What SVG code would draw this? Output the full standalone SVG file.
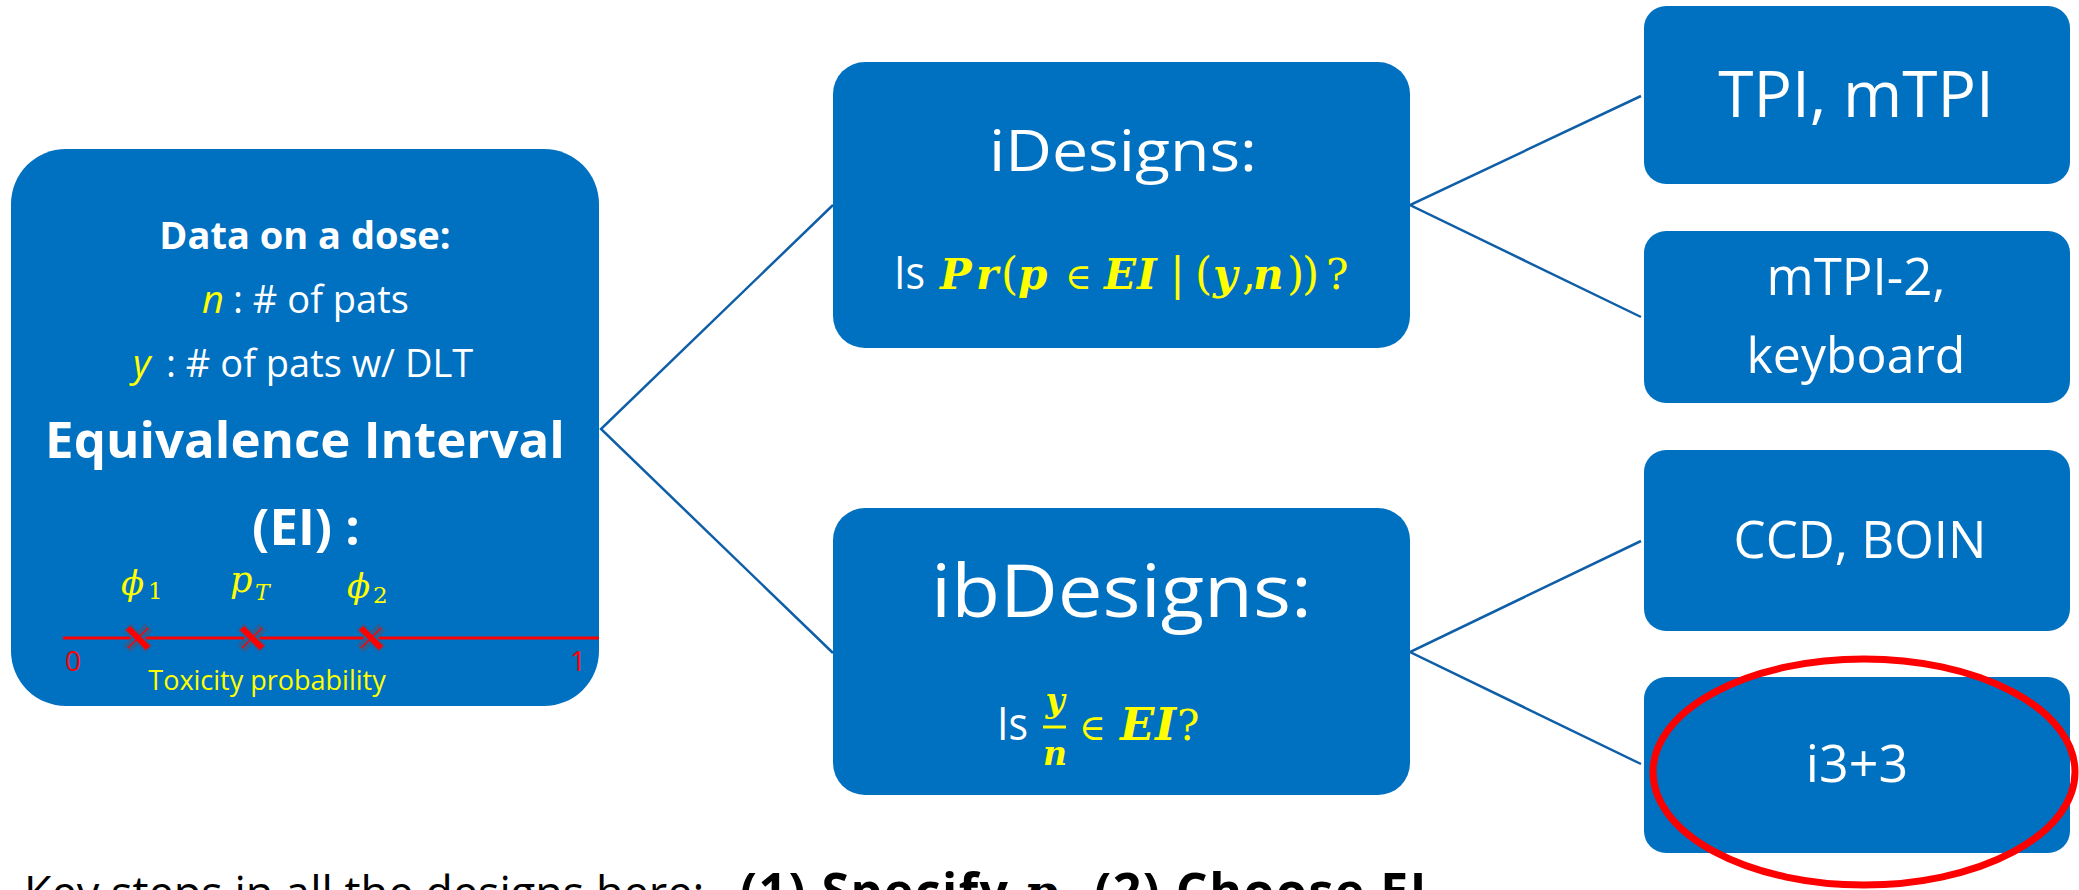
<svg xmlns="http://www.w3.org/2000/svg" width="2079" height="890" viewBox="0 0 2079 890">
  <style>
    .box { fill: #0070C0; }
    .sans { font-family: "Open Sans", "Noto Sans", "DejaVu Sans", sans-serif; }
    .w { fill: #FFFFFF; }
    .yl { fill: #FFFF00; }
    .b { font-weight: bold; }
    .it { font-style: italic; }
    .math { font-family: "DejaVu Serif", "Liberation Serif", serif; fill: #FFFF00; }
    .mbi { font-family: "DejaVu Serif", "Liberation Serif", serif; font-weight: bold; font-style: italic; fill: #FFFF00; }
    .conn { fill: none; stroke: #0F5FA8; stroke-width: 2.5; }
    .mid { text-anchor: middle; }
  </style>
  <defs>
    <!-- marker drawn on the probability axis -->
    <g id="xmark">
      <path d="M-11,-11 L11,11 M11,-11 L-11,11" stroke="#2F5E93" stroke-width="10"/>
      <path d="M-10,-10 L10,10" stroke="#FF0000" stroke-width="6"/>
      <path d="M10,-10 L-10,10" stroke="#FF0000" stroke-width="1.2"/>
    </g>
  </defs>

  <rect width="2079" height="890" fill="#FFFFFF"/>

  <!-- connectors -->
  <g id="connectors">
    <polyline class="conn" points="833,205 601,429 833,653"/>
    <polyline class="conn" points="1641,96 1410,205 1641,317"/>
    <polyline class="conn" points="1641,541 1410,652 1641,764"/>
  </g>

  <!-- root: equivalence interval -->
  <g id="node-ei">
    <rect class="box" x="11" y="149" width="588" height="557" rx="55"/>
    <text class="sans w b mid" x="305" y="249" font-size="38">Data on a dose:</text>
    <text class="sans yl it" x="202" y="313" font-size="38">n</text>
    <text class="sans w" x="233" y="313" font-size="38">: # of pats</text>
    <text class="sans yl it" x="133" y="377" font-size="38">y</text>
    <text class="sans w" x="166" y="377" font-size="38">: # of pats w/ DLT</text>
    <text class="sans w b mid" x="305" y="458" font-size="51">Equivalence Interval</text>
    <text class="sans w b mid" x="306" y="545" font-size="51">(EI) :</text>
    <!-- axis labels -->
    <text class="math it" x="121" y="595" font-size="34">ϕ</text>
    <text class="math" x="148" y="599" font-size="23">1</text>
    <text class="math it" x="230" y="592" font-size="35">p</text>
    <text class="math it" x="255" y="600" font-size="22">T</text>
    <text class="math it" x="347" y="598" font-size="34">ϕ</text>
    <text class="math" x="373" y="603" font-size="23">2</text>
    <!-- axis -->
    <line x1="63" y1="638" x2="599" y2="638" stroke="#FF0000" stroke-width="3"/>
    <use href="#xmark" x="138" y="638"/>
    <use href="#xmark" x="252" y="638"/>
    <use href="#xmark" x="371" y="638"/>
    <text class="sans" x="65" y="671" font-size="28" fill="#FF0000">0</text>
    <text class="sans" x="570" y="671" font-size="28" fill="#FF0000">1</text>
    <text class="sans yl mid" x="267" y="690" font-size="27">Toxicity probability</text>
  </g>

  <!-- iDesigns -->
  <g id="node-idesigns">
    <rect class="box" x="833" y="62" width="577" height="286" rx="32"/>
    <text class="sans w" x="989" y="171" font-size="57" textLength="268" lengthAdjust="spacingAndGlyphs">iDesigns:</text>
    <text class="sans w" x="894" y="289" font-size="46" textLength="31" lengthAdjust="spacingAndGlyphs">Is</text>
    <text class="mbi" x="940" y="289" font-size="42">P</text>
    <text class="mbi" x="976" y="289" font-size="42">r</text>
    <text class="math" x="1001" y="289" font-size="44">(</text>
    <text class="mbi" x="1018" y="289" font-size="42">p</text>
    <text class="math" x="1065" y="289" font-size="36">∈</text>
    <text class="mbi" x="1104" y="289" font-size="42">E</text>
    <text class="mbi" x="1137" y="289" font-size="42">I</text>
    <text class="math" x="1170" y="289" font-size="44">|</text>
    <text class="math" x="1195" y="289" font-size="44">(</text>
    <text class="mbi" x="1213" y="289" font-size="42">y</text>
    <text class="math" x="1242" y="289" font-size="44">,</text>
    <text class="mbi" x="1253" y="289" font-size="42">n</text>
    <text class="math" x="1287" y="289" font-size="44">)</text>
    <text class="math" x="1302" y="289" font-size="44">)</text>
    <text class="math" x="1326" y="289" font-size="42">?</text>
  </g>

  <!-- ibDesigns -->
  <g id="node-ibdesigns">
    <rect class="box" x="833" y="508" width="577" height="287" rx="32"/>
    <text class="sans w" x="931" y="617" font-size="74" textLength="381" lengthAdjust="spacingAndGlyphs">ibDesigns:</text>
    <text class="sans w" x="997" y="740" font-size="46" textLength="31" lengthAdjust="spacingAndGlyphs">Is</text>
    <text class="mbi mid" x="1055" y="712" font-size="33">y</text>
    <rect x="1043" y="725.5" width="23" height="3" fill="#FFFF00"/>
    <text class="mbi mid" x="1055" y="765" font-size="33">n</text>
    <text class="math" x="1079" y="740" font-size="36">∈</text>
    <text class="mbi" x="1120" y="740" font-size="45">E</text>
    <text class="mbi" x="1155" y="740" font-size="45">I</text>
    <text class="math" x="1177" y="740" font-size="42">?</text>
  </g>

  <!-- leaf designs -->
  <g id="node-tpi">
    <rect class="box" x="1644" y="6" width="426" height="178" rx="22"/>
    <text class="sans w mid" x="1856" y="117" font-size="64">TPI, mTPI</text>
  </g>
  <g id="node-mtpi2">
    <rect class="box" x="1644" y="231" width="426" height="172" rx="22"/>
    <text class="sans w mid" x="1856" y="295" font-size="51">mTPI-2,</text>
    <text class="sans w mid" x="1856" y="373" font-size="50">keyboard</text>
  </g>
  <g id="node-ccd">
    <rect class="box" x="1644" y="450" width="426" height="181" rx="22"/>
    <text class="sans w mid" x="1860" y="558" font-size="51">CCD, BOIN</text>
  </g>
  <g id="node-i33">
    <rect class="box" x="1644" y="677" width="426" height="176" rx="22"/>
    <text class="sans w mid" x="1857" y="782" font-size="52">i3+3</text>
  </g>

  <!-- highlight ring around i3+3 -->
  <ellipse cx="1864" cy="772" rx="211" ry="113" fill="none" stroke="#FF0000" stroke-width="7"/>

  <!-- footnote, partly below the lower edge -->
  <text class="sans" y="909" font-size="45" fill="#000000"><tspan x="24">Key steps in all the designs here:</tspan><tspan x="740" font-weight="bold" font-size="50" letter-spacing="1.5">(1) Specify </tspan><tspan font-family="DejaVu Serif, Liberation Serif, serif" font-style="italic" font-weight="bold" font-size="48">p</tspan><tspan font-family="DejaVu Serif, Liberation Serif, serif" font-style="italic" font-weight="bold" font-size="30" dy="8">T</tspan><tspan font-weight="bold" font-size="50" letter-spacing="1.5" dy="-8"> (2) Choose EI</tspan></text>
</svg>
